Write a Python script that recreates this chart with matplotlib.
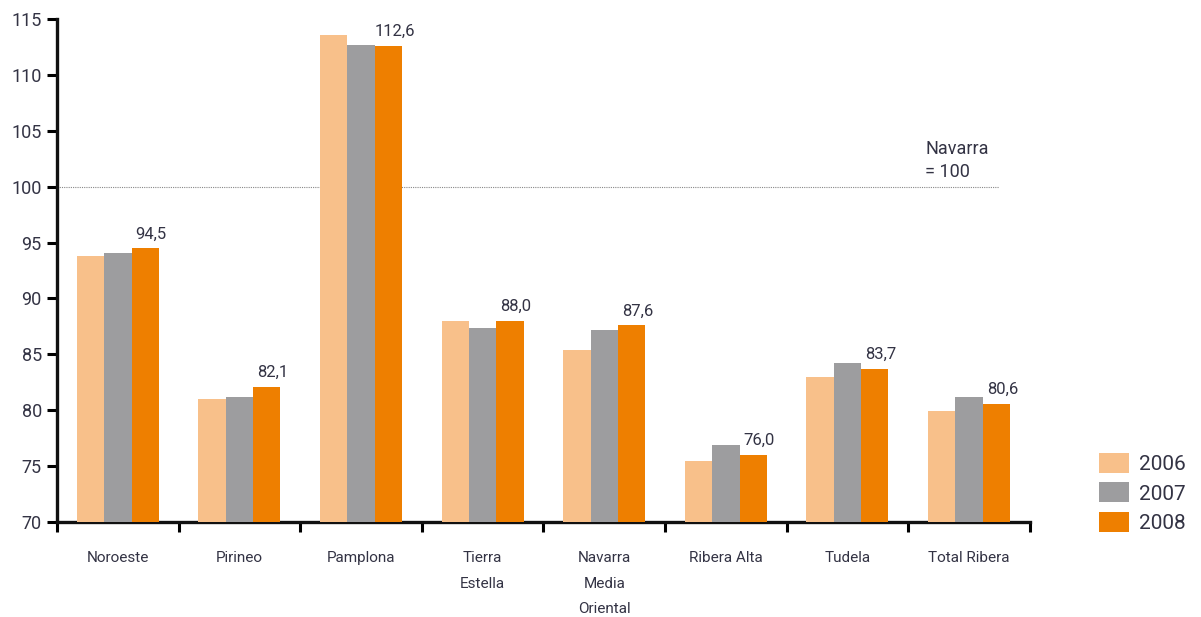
import numpy as np
import matplotlib
matplotlib.use("Agg")
import matplotlib.pyplot as plt

plt.rcParams["font.family"] = ["Roboto", "DejaVu Sans"]

categories = ["Noroeste", "Pirineo", "Pamplona", "Tierra\nEstella",
              "Navarra\nMedia\nOriental", "Ribera Alta", "Tudela", "Total Ribera"]
years = ["2006", "2007", "2008"]
v2006 = [93.8, 81.0, 113.6, 88.0, 85.4, 75.5, 83.0, 79.9]
v2007 = [94.1, 81.2, 112.7, 87.4, 87.2, 76.9, 84.2, 81.2]
v2008 = [94.5, 82.1, 112.6, 88.0, 87.6, 76.0, 83.7, 80.6]
labels_2008 = ["94,5", "82,1", "112,6", "88,0", "87,6", "76,0", "83,7", "80,6"]

COLORS = ["#f8c08a", "#9d9d9f", "#ee7f00"]
INK = "#333344"

fig = plt.figure(figsize=(12.01, 6.17), dpi=100)
ax = fig.add_axes([0.0475, 0.154, 0.81, 0.815])

x = np.arange(len(categories)) + 0.5
w = 0.225
for i, (vals, col, yr) in enumerate(zip([v2006, v2007, v2008], COLORS, years)):
    ax.bar(x + (i - 1) * w, np.array(vals) - 70, bottom=70, width=w,
           color=col, label=yr, zorder=3)

for xi, v, lab in zip(x, v2008, labels_2008):
    ax.text(xi + w + 0.05, v + 0.6, lab, ha="center", va="bottom",
            fontsize=12, color=INK)

# Navarra = 100 reference
ax.plot([0, 7.75], [100, 100], color="#888888", linestyle=(0, (1, 1)),
        linewidth=0.8, zorder=2)
ax.text(7.14, 100.5, "Navarra\n= 100", ha="left", va="bottom",
        fontsize=13, color=INK, linespacing=1.4)

ax.set_xlim(0, 8)
ax.set_ylim(70, 115)
ax.set_yticks(np.arange(70, 116, 5))
ax.set_xticks(np.arange(0, 9))
ax.set_xticklabels([])
ax.set_xticks(x, minor=True)
ax.set_xticklabels(categories, minor=True, fontsize=11, color=INK, linespacing=2.05,
                   va="top")
ax.tick_params(axis="x", which="minor", length=0, pad=21)
ax.tick_params(axis="x", which="major", length=7, width=2.2, direction="out")
ax.tick_params(axis="y", length=7, width=2.2, direction="out", labelsize=13,
               labelcolor=INK, pad=4)

for s in ("top", "right"):
    ax.spines[s].set_visible(False)
for s in ("left", "bottom"):
    ax.spines[s].set_linewidth(2.4)
    ax.spines[s].set_color("#111111")

leg = ax.legend(loc="lower left", bbox_to_anchor=(1.052, -0.06), frameon=False,
                fontsize=15, handlelength=1.45, handleheight=1.1,
                labelspacing=0.42, handletextpad=0.45)
for t in leg.get_texts():
    t.set_color(INK)

fig.savefig("out.png", dpi=100, facecolor="white")
